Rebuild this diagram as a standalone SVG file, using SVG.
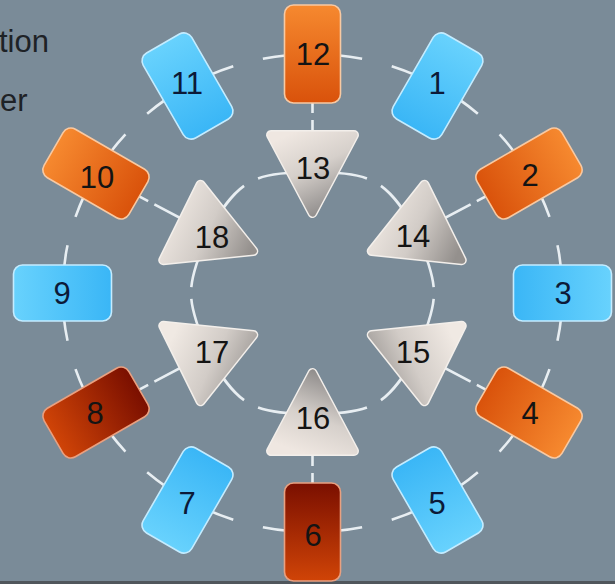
<svg xmlns="http://www.w3.org/2000/svg" width="615" height="584" viewBox="0 0 615 584">
<defs>
<style>
.conn{fill:none;stroke:#e8eef2;stroke-width:2.6}
.ring{stroke-dasharray:49 30 49}
.spoke{stroke-dasharray:59 7 300}
.lbl{font-family:"Liberation Sans",Arial,sans-serif;font-size:31px;text-anchor:middle}
.bl{fill:#0c1a38}
.dk{fill:#141414}
.rb{fill:url(#gBlue);stroke:#c4ecff;stroke-width:1.6}
.ro{fill:url(#gOrange);stroke:#f8c9a2;stroke-width:1.6}
.rr{fill:url(#gRed);stroke:#e9a080;stroke-width:1.6}
.rim{fill:#f3efeb;stroke:#f3efeb;stroke-width:10;stroke-linejoin:round}
.tri{stroke-width:7;stroke-linejoin:round}
.side{font-family:"Liberation Sans",Arial,sans-serif;font-size:31px;fill:#1e2226}
</style>
<linearGradient id="gBlue" x1="0" y1="0" x2="0" y2="1">
<stop offset="0" stop-color="#68d2fd"/><stop offset="1" stop-color="#3ab6f6"/>
</linearGradient>
<linearGradient id="gOrange" x1="0" y1="0" x2="0" y2="1">
<stop offset="0" stop-color="#f6892f"/><stop offset="1" stop-color="#d9520b"/>
</linearGradient>
<linearGradient id="gRed" x1="0" y1="0" x2="0" y2="1">
<stop offset="0" stop-color="#d04407"/><stop offset="1" stop-color="#7a0f00"/>
</linearGradient>
<linearGradient id="gDown" x1="0.2" y1="0" x2="0.7" y2="1">
<stop offset="0" stop-color="#efe7e1"/><stop offset="0.45" stop-color="#d6d0cb"/><stop offset="1" stop-color="#8c8988"/>
</linearGradient>
<linearGradient id="gUp" x1="0.3" y1="1" x2="0.7" y2="0">
<stop offset="0" stop-color="#efe7e1"/><stop offset="0.45" stop-color="#d6d0cb"/><stop offset="1" stop-color="#8c8988"/>
</linearGradient>
<linearGradient id="gSide" x1="0" y1="0.4" x2="1" y2="0.8">
<stop offset="0" stop-color="#f0e9e3"/><stop offset="0.5" stop-color="#d2ccc7"/><stop offset="1" stop-color="#94908d"/>
</linearGradient>
<linearGradient id="gSideR" x1="1" y1="0.4" x2="0" y2="0.8">
<stop offset="0" stop-color="#f0e9e3"/><stop offset="0.5" stop-color="#d2ccc7"/><stop offset="1" stop-color="#94908d"/>
</linearGradient>
</defs>
<rect x="0" y="0" width="615" height="584" fill="#7a8b98"/>
<rect x="0" y="581" width="615" height="3" fill="#50565c"/>
<text class="side" x="-1" y="52">tion</text>
<text class="side" x="0" y="111">er</text>

<g id="connectors">
<path class="conn ring" pathLength="128" d="M312.5 54 A250 239 0 0 1 437.5 86"/>
<path class="conn ring" pathLength="128" d="M437.5 86 A250 239 0 0 1 529 173.5"/>
<path class="conn ring" pathLength="128" d="M529 173.5 A250 239 0 0 1 562.5 293"/>
<path class="conn ring" pathLength="128" d="M562.5 293 A250 239 0 0 1 529 412.5"/>
<path class="conn ring" pathLength="128" d="M529 412.5 A250 239 0 0 1 437.5 500"/>
<path class="conn ring" pathLength="128" d="M437.5 500 A250 239 0 0 1 312.5 532"/>
<path class="conn ring" pathLength="128" d="M312.5 532 A250 239 0 0 1 187.5 500"/>
<path class="conn ring" pathLength="128" d="M187.5 500 A250 239 0 0 1 96 412.5"/>
<path class="conn ring" pathLength="128" d="M96 412.5 A250 239 0 0 1 62.5 293"/>
<path class="conn ring" pathLength="128" d="M62.5 293 A250 239 0 0 1 96 173.5"/>
<path class="conn ring" pathLength="128" d="M96 173.5 A250 239 0 0 1 187.5 86"/>
<path class="conn ring" pathLength="128" d="M187.5 86 A250 239 0 0 1 312.5 54"/>
<path class="conn spoke" d="M312.5 54 L312.5 172"/>
<path class="conn spoke" d="M529 173.5 L417.3 232.5"/>
<path class="conn spoke" d="M529 412.5 L417.3 353.5"/>
<path class="conn spoke" d="M312.5 532 L312.5 414"/>
<path class="conn spoke" d="M96 412.5 L207.7 353.5"/>
<path class="conn spoke" d="M96 173.5 L207.7 232.5"/>
<path class="conn" stroke-dasharray="55 16 300" d="M312.5 172 C372.5 172 387.3 180.5 417.3 232.5"/>
<path class="conn" stroke-dasharray="55 16 300" d="M312.5 172 C252.5 172 237.7 180.5 207.7 232.5"/>
<path class="conn" stroke-dasharray="57 12 300" d="M417.3 232.5 C439.5 293 439.5 293 417.3 353.5"/>
<path class="conn" stroke-dasharray="57 12 300" d="M207.7 232.5 C185.5 293 185.5 293 207.7 353.5"/>
<path class="conn" stroke-dasharray="55 16 300" d="M312.5 414 C372.5 414 387.3 405.5 417.3 353.5"/>
<path class="conn" stroke-dasharray="55 16 300" d="M312.5 414 C252.5 414 237.7 405.5 207.7 353.5"/>
</g>

<g id="n1"><rect class="rb" x="-28" y="-49" width="56" height="98" rx="9" transform="translate(437.5 86) rotate(30)"/><text class="lbl bl" x="437" y="94">1</text></g>
<g id="n2"><rect class="ro" x="-28" y="-49" width="56" height="98" rx="9" transform="translate(529 173.5) rotate(60)"/><text class="lbl dk" x="530" y="186">2</text></g>
<g id="n3"><rect class="rb" x="-28" y="-49" width="56" height="98" rx="9" transform="translate(562.5 293) rotate(90)"/><text class="lbl bl" x="563" y="304">3</text></g>
<g id="n4"><rect class="ro" x="-28" y="-49" width="56" height="98" rx="9" transform="translate(529 412.5) rotate(120)"/><text class="lbl dk" x="530" y="424">4</text></g>
<g id="n5"><rect class="rb" x="-28" y="-49" width="56" height="98" rx="9" transform="translate(437.5 500) rotate(150)"/><text class="lbl bl" x="437" y="514">5</text></g>
<g id="n6"><rect class="rr" x="-28" y="-49" width="56" height="98" rx="9" transform="translate(312.5 532) rotate(180)"/><text class="lbl dk" x="313" y="546">6</text></g>
<g id="n7"><rect class="rb" x="-28" y="-49" width="56" height="98" rx="9" transform="translate(187.5 500) rotate(210)"/><text class="lbl bl" x="187" y="514">7</text></g>
<g id="n8"><rect class="rr" x="-28" y="-49" width="56" height="98" rx="9" transform="translate(96 412.5) rotate(240)"/><text class="lbl dk" x="95" y="424">8</text></g>
<g id="n9"><rect class="rb" x="-28" y="-49" width="56" height="98" rx="9" transform="translate(62.5 293) rotate(270)"/><text class="lbl bl" x="62" y="304">9</text></g>
<g id="n10"><rect class="ro" x="-28" y="-49" width="56" height="98" rx="9" transform="translate(96 173.5) rotate(300)"/><text class="lbl dk" x="97" y="188">10</text></g>
<g id="n11"><rect class="rb" x="-28" y="-49" width="56" height="98" rx="9" transform="translate(187.5 86) rotate(330)"/><text class="lbl bl" x="187" y="94">11</text></g>
<g id="n12"><rect class="ro" x="-28" y="-49" width="56" height="98" rx="9" transform="translate(312.5 54)"/><text class="lbl dk" x="313" y="65">12</text></g>

<g id="n13"><polygon class="rim" points="271,135 354,135 312.5,213"/><polygon class="tri" fill="url(#gDown)" stroke="url(#gDown)" points="271,135 354,135 312.5,213"/><text class="lbl dk" x="313" y="179">13</text></g>
<g id="n14"><polygon class="rim" points="424.5,184.7 371.7,251.1 461.8,260.2"/><polygon class="tri" fill="url(#gSide)" stroke="url(#gSide)" points="424.5,184.7 371.7,251.1 461.8,260.2"/><text class="lbl dk" x="413" y="247">14</text></g>
<g id="n15"><polygon class="rim" points="424.5,401.3 371.7,334.9 461.8,325.8"/><polygon class="tri" fill="url(#gSideR)" stroke="url(#gSideR)" points="424.5,401.3 371.7,334.9 461.8,325.8"/><text class="lbl dk" x="413" y="363">15</text></g>
<g id="n16"><polygon class="rim" points="271,451 354,451 312.5,373"/><polygon class="tri" fill="url(#gUp)" stroke="url(#gUp)" points="271,451 354,451 312.5,373"/><text class="lbl dk" x="313" y="429">16</text></g>
<g id="n17"><polygon class="rim" points="200.5,401.3 253.3,334.9 163.2,325.8"/><polygon class="tri" fill="url(#gSide)" stroke="url(#gSide)" points="200.5,401.3 253.3,334.9 163.2,325.8"/><text class="lbl dk" x="212" y="363">17</text></g>
<g id="n18"><polygon class="rim" points="200.5,184.7 253.3,251.1 163.2,260.2"/><polygon class="tri" fill="url(#gSide)" stroke="url(#gSide)" points="200.5,184.7 253.3,251.1 163.2,260.2"/><text class="lbl dk" x="212" y="248">18</text></g>
</svg>
